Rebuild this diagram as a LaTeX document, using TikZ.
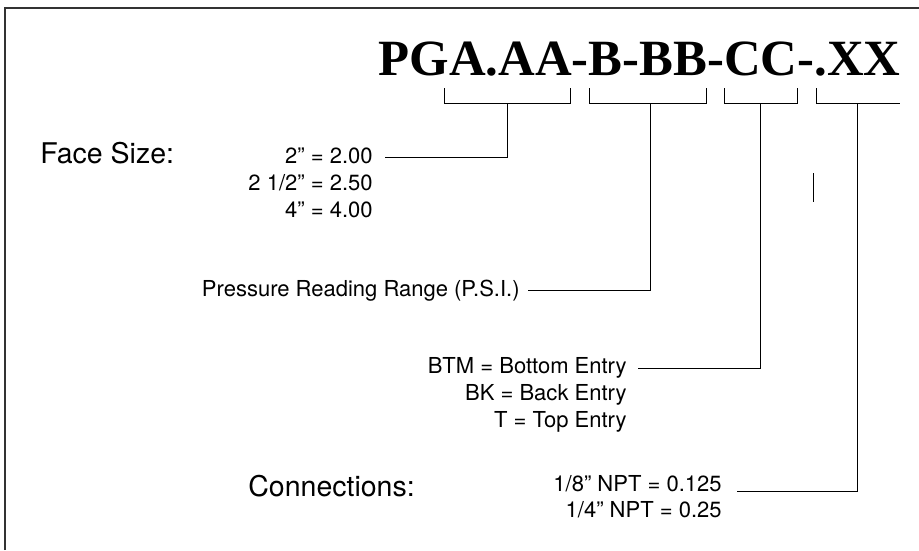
\documentclass[tikz,border=0pt]{standalone}
\usepackage{fontspec}
\setmainfont{Liberation Serif}
\setsansfont{TeX Gyre Heros}
\usepackage{tikz}
\usetikzlibrary{positioning, calc}

\begin{document}
\begin{tikzpicture}[x=1pt, y=-1pt, line width=0.8pt,
    val/.style={inner sep=0pt, anchor=base east, font=\sffamily\fontsize{22}{26}\selectfont},
    head/.style={inner sep=0pt, anchor=base west, font=\sffamily\fontsize{28.5}{34}\selectfont},
    lead/.style={line width=0.8pt, black}]
  \useasboundingbox (0,0) rectangle (919,550);
  % frame, open at right and bottom
  \draw[black!80, line width=2pt] (5,550) -- (5,8) -- (919,8);
  % part number
  \node[inner sep=0pt, anchor=base east, font=\bfseries\fontsize{50.8}{60}\selectfont] (code) at (901,75) {PGA.AA-B-BB-CC-.XX};
  % brackets
  \draw[lead] (444,88) |- (570,103) -- (570,88);
  \draw[lead] (589,88) |- (706,103) -- (706,88);
  \draw[lead] (724,88) |- (797,103) -- (797,88);
  \draw[lead] (816,88) |- (900,103);
  \coordinate (aa) at (507,103);
  \coordinate (bb) at (650,103);
  \coordinate (cc) at (760,103);
  \coordinate (xx) at (857,103);
  % face size
  \node[head] (facesize) at (40,163) {Face Size:};
  \node[val] (sz2) at (373,163) {2” = 2.00};
  \node[val] (sz25) at (373,190) {2 1/2” = 2.50};
  \node[val] (sz4) at (373,217) {4” = 4.00};
  \draw[lead] ([shift={(12,-6)}]sz2.base east) -| (aa);
  % stray tick
  \draw[lead] (813,173) -- (813,202);
  % range
  \node[val] (range) at (520,296) {Pressure Reading Range (P.S.I.)};
  \draw[lead] ([shift={(8,-6)}]range.base east) -| (bb);
  % entry
  \node[val] (btm) at (627,373) {BTM = Bottom Entry};
  \node[val] (bk) at (627,400) {BK = Back Entry};
  \node[val] (tp) at (627,427) {T = Top Entry};
  \draw[lead] ([shift={(11,-5)}]btm.base east) -| (cc);
  % connections
  \node[head] (conn) at (248,496) {Connections:};
  \node[val] (npt18) at (722,491) {1/8” NPT = 0.125};
  \node[val] (npt14) at (722,517) {1/4” NPT = 0.25};
  \draw[lead] ([shift={(15,0)}]npt18.base east) -| (xx);
\end{tikzpicture}
\end{document}
